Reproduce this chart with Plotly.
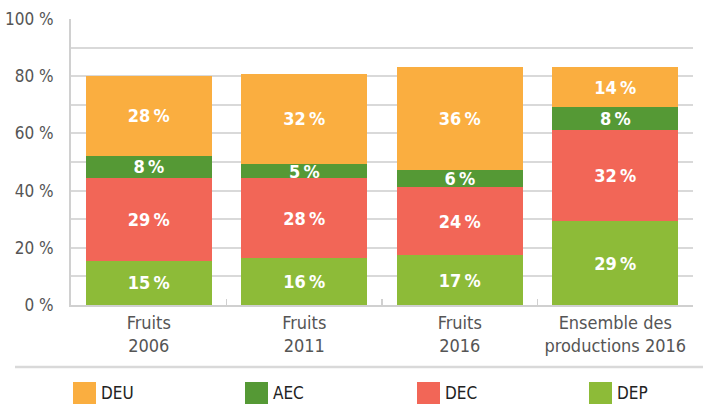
import plotly.graph_objects as go

categories = ["Fruits<br>2006", "Fruits<br>2011", "Fruits<br>2016", "Ensemble des<br>productions 2016"]
series = ["DEP", "DEC", "AEC", "DEU"]
dep = [15.4, 16.4, 17.4, 29.3]
dec = [29.1, 28.0, 23.8, 31.8]
aec = [7.7, 4.8, 5.9, 8.1]
deu = [27.9, 31.7, 36.0, 13.9]
colors = {"DEP": "#8DBB38", "DEC": "#F26657", "AEC": "#559935", "DEU": "#FAAE40"}
legend_order = ["DEU", "AEC", "DEC", "DEP"]
y_ticks = [0, 20, 40, 60, 80, 100]
y_ticklabels = [f"{v} %" for v in y_ticks]

values = {"DEP": dep, "DEC": dec, "AEC": aec, "DEU": deu}
FONT = "DejaVu Sans Condensed, Liberation Sans Narrow, Roboto, sans-serif"

fig = go.Figure()
for s in series:
    fig.add_trace(go.Bar(
        x=categories, y=values[s], name=s,
        marker=dict(color=colors[s], line=dict(width=0)),
        text=[f"{round(v)}\u202f%" for v in values[s]],
        textposition="inside", insidetextanchor="middle",
        textfont=dict(color="white", size=18, family=FONT, weight="bold"),
        showlegend=False, hoverinfo="skip",
    ))

# plot area in pixels: left 71, right 693, top 19, bottom 305
L, R, T, B = 71, 693, 19, 305
W, H = R - L, B - T

def px(x):
    return (x - L) / W

def py(y):
    return (B - y) / H

shapes = [dict(type="line", xref="paper", yref="paper", x0=px(15), x1=px(703),
               y0=py(367), y1=py(367), line=dict(color="#D9D9D9", width=2.5))]
annotations = []
for i, s in enumerate(legend_order):
    x0 = 73 + i * 172
    shapes.append(dict(type="rect", xref="paper", yref="paper", x0=px(x0), x1=px(x0 + 23),
                       y0=py(405), y1=py(382), fillcolor=colors[s], line=dict(width=0)))
    annotations.append(dict(xref="paper", yref="paper", x=px(x0 + 26), y=py(393), text=s,
                            showarrow=False, xanchor="left", yanchor="middle",
                            font=dict(family=FONT, size=17, color="#222222")))

fig.update_layout(
    width=710, height=404,
    margin=dict(l=L, r=710 - R, t=T, b=404 - B, autoexpand=False),
    paper_bgcolor="white", plot_bgcolor="white",
    barmode="stack", bargap=0.19,
    font=dict(family=FONT, color="#555555"),
    uniformtext=dict(minsize=18, mode="show"),
    shapes=shapes, annotations=annotations,
    xaxis=dict(
        automargin=False,
        showline=True, linecolor="#D0D0D0", linewidth=2,
        ticks="inside", tickson="boundaries", ticklen=6, tickcolor="#D0D0D0", tickwidth=1.5,
        tickfont=dict(size=18, color="#555555", family=FONT),
        showgrid=False,
    ),
    yaxis=dict(
        automargin=False,
        range=[0, 100], tickvals=y_ticks, ticktext=y_ticklabels,
        showline=True, linecolor="#D0D0D0", linewidth=2,
        showgrid=True, gridcolor="#D9D9D9", gridwidth=2,
        minor=dict(dtick=10, showgrid=True, gridcolor="#D9D9D9", gridwidth=2),
        ticks="", ticklabelstandoff=12,
        tickfont=dict(size=17, color="#555555", family=FONT),
        zeroline=False,
    ),
)

fig.write_html(
    "out.html",
    config={"displayModeBar": False, "staticPlot": True},
    post_script="document.body.style.margin='0px';document.body.style.overflow='hidden';",
)
